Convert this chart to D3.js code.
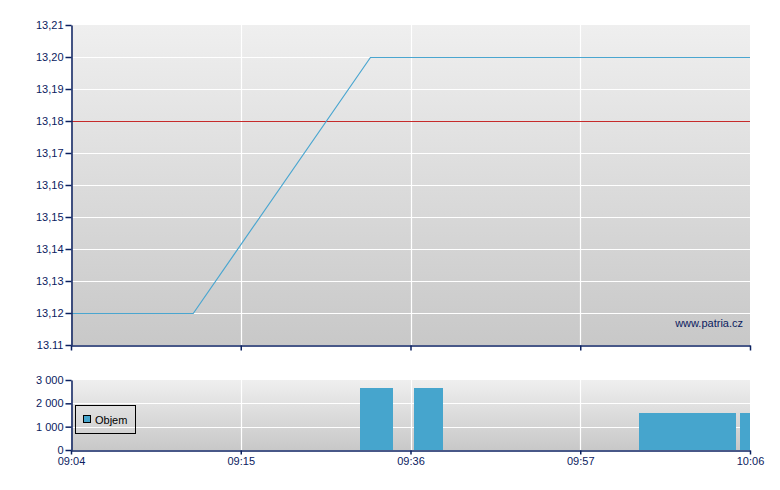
<!DOCTYPE html>
<html><head><meta charset="utf-8">
<script src="https://cdn.jsdelivr.net/npm/d3@7"></script>
<style>body{margin:0;background:#fff}svg{display:block}text{font-family:"Liberation Sans",Arial,sans-serif;font-size:11px}</style>
</head><body>
<svg id="c" width="780" height="490"></svg>
<script>
// index-based x axis: 5 equally spaced labelled slots (0..100)
const xTickPos = [0, 25, 50, 75, 100];
const xTickLabels = ["09:04", "09:15", "09:36", "09:57", "10:06"];
const priceX = [0, 18, 44.1, 100];
const priceY = [13.12, 13.12, 13.20, 13.20];
const refPrice = 13.18;
const priceTicks = [13.11, 13.12, 13.13, 13.14, 13.15, 13.16, 13.17, 13.18, 13.19, 13.20, 13.21];
const priceTickLabels = ["13.11", "13,12", "13,13", "13,14", "13,15", "13,16", "13,17", "13,18", "13,19", "13,20", "13,21"];
const volStart = [42.6, 50.5, 83.7, 98.5];
const volEnd = [47.4, 54.8, 97.9, 101];
const volValues = [2650, 2650, 1590, 1590];
const volTicks = [0, 1000, 2000, 3000];
const volTickLabels = ["0", "1 000", "2 000", "3 000"];

const svg = d3.select("#c");
const L = 71, R = 750;
const navy = "#0b2160";
const x = d3.scaleLinear().domain([0, 100]).range([L, R]);
const yP = d3.scaleLinear().domain([13.11, 13.21]).range([345, 25]);
const yV = d3.scaleLinear().domain([0, 3000]).range([450, 380]);

const defs = svg.append("defs");
const g1 = defs.append("linearGradient").attr("id", "bg").attr("x1", 0).attr("y1", 0).attr("x2", 0).attr("y2", 1);
g1.append("stop").attr("offset", 0).attr("stop-color", "#efefef");
g1.append("stop").attr("offset", 1).attr("stop-color", "#c8c8c8");
defs.append("clipPath").attr("id", "clipV").append("rect").attr("x", L).attr("y", 370).attr("width", R - L).attr("height", 80);

function panel(y) {
  const [y0, y1] = y.range();
  svg.append("rect").attr("x", L).attr("y", y1).attr("width", R - L).attr("height", y0 - y1).attr("fill", "url(#bg)");
  svg.append("g").selectAll("line").data(xTickPos.slice(1, -1)).join("line")
    .attr("x1", d => Math.round(x(d)) + 0.5).attr("x2", d => Math.round(x(d)) + 0.5)
    .attr("y1", y1).attr("y2", y0).attr("stroke", "#fff").attr("stroke-width", 1.2);
}
panel(yP);
panel(yV);

// price gridlines
svg.append("g").selectAll("line").data(priceTicks.slice(1, -1)).join("line")
  .attr("x1", L).attr("x2", R).attr("y1", d => Math.round(yP(d)) + 0.5).attr("y2", d => Math.round(yP(d)) + 0.5)
  .attr("stroke", "#fff").attr("stroke-width", 1.2);
svg.append("g").selectAll("line").data(volTicks.slice(1, -1)).join("line")
  .attr("x1", L).attr("x2", R).attr("y1", d => Math.round(yV(d)) + 0.5).attr("y2", d => Math.round(yV(d)) + 0.5)
  .attr("stroke", "#fff").attr("stroke-width", 1.2);

// reference line
svg.append("line").attr("x1", L).attr("x2", R).attr("y1", Math.round(yP(refPrice)) + 0.5).attr("y2", Math.round(yP(refPrice)) + 0.5)
  .attr("stroke", "#c62a2a").attr("stroke-width", 1);

// price line
const pts = priceX.map((d, i) => [d, priceY[i]]);
svg.append("path").datum(pts)
  .attr("d", d3.line().x(d => x(d[0])).y(d => Math.round(yP(d[1])) + 0.5))
  .attr("fill", "none").attr("stroke", "#4aa6d0").attr("stroke-width", 1.2);

// volume bars
svg.append("g").attr("clip-path", "url(#clipV)").selectAll("rect").data(volValues).join("rect")
  .attr("x", (d, i) => Math.round(x(volStart[i])))
  .attr("width", (d, i) => Math.round(x(volEnd[i])) - Math.round(x(volStart[i])))
  .attr("y", d => Math.round(yV(d))).attr("height", d => yV(0) - Math.round(yV(d)))
  .attr("fill", "#46a5cd");

// axes
const axP = svg.append("g").attr("transform", `translate(${L + 0.5},0)`)
  .call(d3.axisLeft(yP).tickValues(priceTicks).tickFormat((d, i) => priceTickLabels[i]).tickSize(6).tickSizeOuter(0));
const axV = svg.append("g").attr("transform", `translate(${L + 0.5},0)`)
  .call(d3.axisLeft(yV).tickValues(volTicks).tickFormat((d, i) => volTickLabels[i]).tickSize(6).tickSizeOuter(0));
const axXP = svg.append("g").attr("transform", `translate(0,${345.5})`)
  .call(d3.axisBottom(x).tickValues(xTickPos).tickFormat("").tickSize(5).tickSizeOuter(0));
const axXV = svg.append("g").attr("transform", `translate(0,${450.5})`)
  .call(d3.axisBottom(x).tickValues(xTickPos).tickFormat((d, i) => xTickLabels[i]).tickSize(5).tickSizeOuter(0));
[axP, axV, axXP, axXV].forEach(a => {
  a.select(".domain").attr("stroke", navy).attr("stroke-width", 1.5);
  a.selectAll(".tick line").attr("stroke", navy).attr("stroke-width", 1.5);
  a.selectAll("text").attr("fill", navy).attr("font-size", 11).attr("font-family", "Liberation Sans, Arial, sans-serif");
});
axP.selectAll("text").attr("x", -8);
axV.selectAll("text").attr("x", -8);
axXV.selectAll("text").attr("y", 7);
axXV.selectAll(".tick line").attr("y2", 4);

// watermark
svg.append("text").attr("x", 743).attr("y", 327).attr("text-anchor", "end").attr("fill", navy).text("www.patria.cz");

// legend
svg.append("rect").attr("x", 75.5).attr("y", 405.5).attr("width", 60).attr("height", 28).attr("fill", "none").attr("stroke", "#000");
svg.append("rect").attr("x", 83.5).attr("y", 415.5).attr("width", 7).attr("height", 7).attr("fill", "#46a5cd").attr("stroke", "#000");
svg.append("text").attr("x", 95).attr("y", 423.5).attr("fill", "#000").text("Objem");
</script>
</body></html>
